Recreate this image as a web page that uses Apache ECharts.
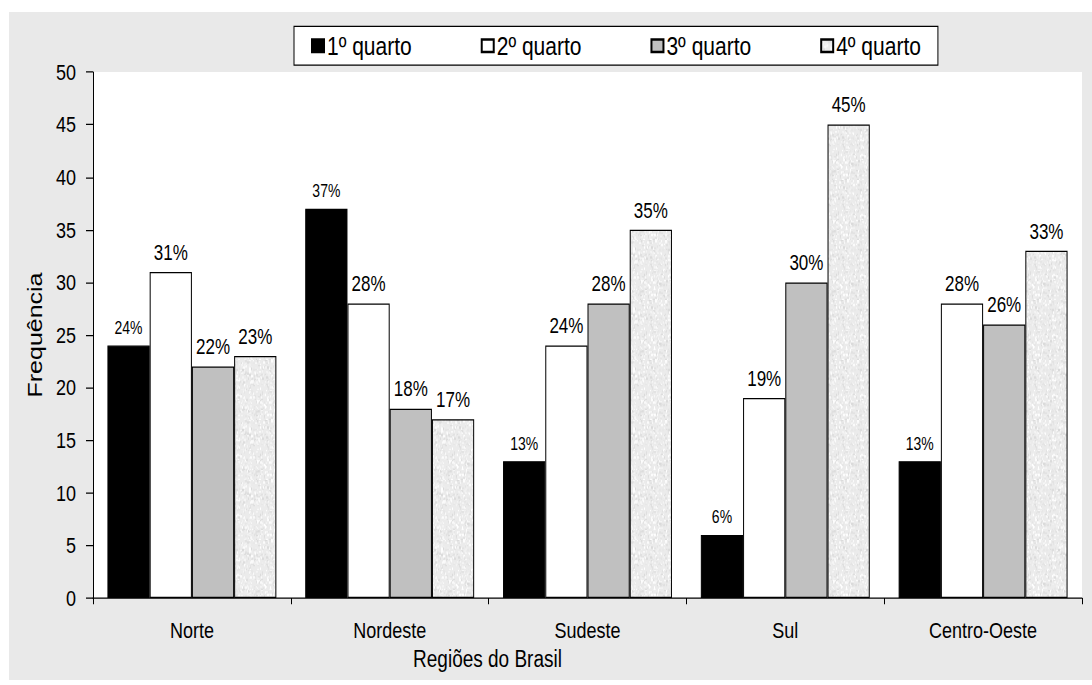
<!DOCTYPE html>
<html>
<head>
<meta charset="utf-8">
<script src="https://cdn.jsdelivr.net/npm/echarts@6/dist/echarts.min.js"></script>
<style>
  html, body { margin: 0; padding: 0; background: #ffffff; overflow: hidden; }
  #panel { position: absolute; left: 9px; top: 12px; width: 1083px; height: 668px; background: #e9e9e9; }
  /* the chart is drawn at reduced height and stretched vertically, giving tall, narrow glyphs */
  #chart { position: absolute; left: 0; top: 0; width: 1092px; height: 548px;
           transform: scaleY(1.25); transform-origin: 0 0; }
</style>
</head>
<body>
<div id="panel"></div>
<div id="chart"></div>
<script>
// Regions of Brazil and the frequency of each quarter
const regioes = ['Norte', 'Nordeste', 'Sudeste', 'Sul', 'Centro-Oeste'];
const quartos = ['1º quarto', '2º quarto', '3º quarto', '4º quarto'];
const q1 = [24, 37, 13, 6, 13];
const q2 = [31, 28, 24, 19, 28];
const q3 = [22, 18, 28, 30, 26];
const q4 = [23, 17, 35, 45, 33];
const yTicks = { min: 0, max: 50, interval: 5 };

const FONT = '"Liberation Sans", Arial, sans-serif';

// Light mottled fill used for the 4th quarter bars
function mottledPattern() {
  const c = document.createElement('canvas');
  c.width = 48; c.height = 48;
  const ctx = c.getContext('2d');
  ctx.fillStyle = '#ebebeb';
  ctx.fillRect(0, 0, 48, 48);
  let s = 7;
  const next = () => { s = (s * 1103515245 + 12345) % 2147483648; return s / 2147483648; };
  for (let i = 0; i < 700; i++) {
    const x = Math.floor(next() * 48), y = Math.floor(next() * 48);
    const v = Math.round(218 + next() * 37);
    ctx.fillStyle = 'rgb(' + v + ',' + v + ',' + v + ')';
    ctx.fillRect(x, y, 1 + Math.floor(next() * 2), 1 + Math.floor(next() * 2));
  }
  return c.toDataURL();
}

const fills = ['#000000', '#ffffff', '#c0c0c0', { image: mottledPattern(), repeat: 'repeat' }];
const values = [q1, q2, q3, q4];
const labelSizes = [14, 17, 17, 17];

const chart = echarts.init(document.getElementById('chart'), null, { renderer: 'svg' });

const series = quartos.map((name, i) => ({
  name: name,
  type: 'bar',
  data: values[i],
  barGap: '0%',
  barCategoryGap: '14.6%',
  itemStyle: { color: fills[i], borderColor: '#000000', borderWidth: 1 },
  label: {
    show: true,
    position: 'top',
    distance: 7,
    formatter: p => p.value + '%',
    fontFamily: FONT,
    fontSize: labelSizes[i],
    color: '#000000'
  }
}));

chart.setOption({
  animation: false,
  textStyle: { fontFamily: FONT, color: '#000000' },
  legend: {
    data: quartos,
    top: 21,
    left: 294,
    icon: 'rect',
    itemWidth: 12,
    itemHeight: 10,
    itemGap: 69,
    padding: [5, 17],
    backgroundColor: '#ffffff',
    borderColor: '#000000',
    borderWidth: 1,
    borderRadius: 0,
    textStyle: { fontFamily: FONT, fontSize: 21, color: '#000000', padding: [0, 0, 0, -2] }
  },
  grid: {
    left: 93, right: 10, top: 57.6, bottom: 69.6,
    show: true, backgroundColor: '#ffffff', borderWidth: 0
  },
  xAxis: {
    type: 'category',
    data: regioes,
    name: 'Regiões do Brasil',
    nameLocation: 'middle',
    nameGap: 39,
    nameTextStyle: { fontFamily: FONT, fontSize: 19, color: '#000000', padding: [0, 200, 0, 0] },
    axisLine: { lineStyle: { color: '#000000', width: 1 } },
    axisTick: { show: true, length: 5, lineStyle: { color: '#000000' } },
    axisLabel: { fontFamily: FONT, fontSize: 18, color: '#000000', margin: 17 }
  },
  yAxis: {
    type: 'value',
    min: yTicks.min,
    max: yTicks.max,
    interval: yTicks.interval,
    name: 'Frequência',
    nameLocation: 'middle',
    nameRotate: 90,
    nameGap: 44,
    nameTextStyle: { fontFamily: FONT, fontSize: 20, color: '#000000' },
    axisLine: { show: true, lineStyle: { color: '#000000', width: 1 } },
    axisTick: { show: true, length: 7, lineStyle: { color: '#000000' } },
    axisLabel: { fontFamily: FONT, fontSize: 18, color: '#000000', margin: 17 },
    splitLine: { show: false }
  },
  series: series
});
</script>
</body>
</html>
